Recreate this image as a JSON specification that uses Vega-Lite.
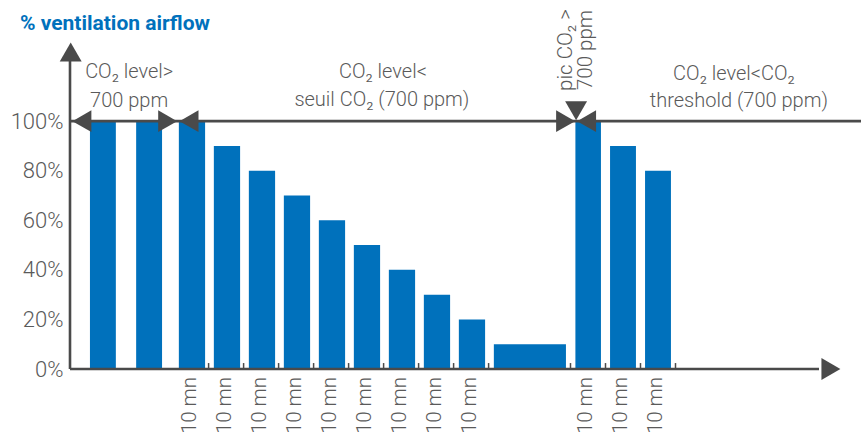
{
  "$schema": "https://vega.github.io/schema/vega-lite/v6.json",
  "autosize": "none",
  "width": 770,
  "height": 347,
  "padding": {"left": 70, "top": 22, "right": 26, "bottom": 63},
  "config": {
    "view": {"stroke": null},
    "font": "Roboto, sans-serif"
  },
  "datasets": {
    "bars": [
      {"start": 5.7, "end": 13.1, "mid": 9.4, "value": 100, "label": ""},
      {"start": 18.9, "end": 26.3, "mid": 22.6, "value": 100, "label": ""},
      {"start": 31.1, "end": 38.6, "mid": 34.85, "value": 100, "label": "10 mn"},
      {"start": 41.1, "end": 48.6, "mid": 44.85, "value": 90, "label": "10 mn"},
      {"start": 51.1, "end": 58.6, "mid": 54.85, "value": 80, "label": "10 mn"},
      {"start": 61.1, "end": 68.6, "mid": 64.85, "value": 70, "label": "10 mn"},
      {"start": 71.1, "end": 78.6, "mid": 74.85, "value": 60, "label": "10 mn"},
      {"start": 81.1, "end": 88.6, "mid": 84.85, "value": 50, "label": "10 mn"},
      {"start": 91.1, "end": 98.6, "mid": 94.85, "value": 40, "label": "10 mn"},
      {"start": 101.1, "end": 108.6, "mid": 104.85, "value": 30, "label": "10 mn"},
      {"start": 111.1, "end": 118.6, "mid": 114.85, "value": 20, "label": "10 mn"},
      {"start": 121.1, "end": 141.7, "mid": 131.4, "value": 10, "label": ""},
      {"start": 144.4, "end": 151.7, "mid": 148.05, "value": 100, "label": "10 mn"},
      {"start": 154.3, "end": 161.7, "mid": 158.0, "value": 90, "label": "10 mn"},
      {"start": 164.3, "end": 171.7, "mid": 168.0, "value": 80, "label": "10 mn"}
    ],
    "ticks": [
      {"t": 39.6}, {"t": 49.6}, {"t": 59.6}, {"t": 69.6}, {"t": 79.6},
      {"t": 89.6}, {"t": 99.6}, {"t": 109.6}, {"t": 119.6},
      {"t": 143.0}, {"t": 153.0}, {"t": 163.0}, {"t": 173.0}
    ],
    "lines": [
      {"x1": 0, "x2": 0, "y1": 0, "y2": 126},
      {"x1": 0, "x2": 214, "y1": 0, "y2": 0},
      {"x1": 0, "x2": 226, "y1": 100, "y2": 100}
    ],
    "arrows": [
      {"x": 0.2, "y": 127.9, "shape": "triangle-up"},
      {"x": 217.4, "y": 0, "shape": "triangle-right"},
      {"x": 3.4, "y": 100, "shape": "triangle-left"},
      {"x": 27.9, "y": 100, "shape": "triangle-right"},
      {"x": 34.0, "y": 100, "shape": "triangle-left"},
      {"x": 141.6, "y": 100, "shape": "triangle-right"},
      {"x": 147.6, "y": 100, "shape": "triangle-left"},
      {"x": 144.6, "y": 104.2, "shape": "triangle-down"}
    ],
    "notes": [
      {"text": "CO₂ level>", "x": 16.9, "y": 117.4},
      {"text": "700 ppm", "x": 16.9, "y": 105.7},
      {"text": "CO₂ level<", "x": 89.4, "y": 117.4},
      {"text": "seuil CO₂ (700 ppm)", "x": 89.1, "y": 106.1},
      {"text": "CO₂  level<CO₂", "x": 189.7, "y": 116.6},
      {"text": "threshold (700 ppm)", "x": 191.1, "y": 105.7}
    ],
    "vnotes": [
      {"text": "pic CO₂ >", "x": 141.8, "y": 128.7},
      {"text": "700 ppm", "x": 147.5, "y": 128.7}
    ],
    "title": [
      {"text": "% ventilation airflow", "x": -14.3, "y": 136.7}
    ]
  },
  "layer": [
    {
      "data": {"name": "bars"},
      "mark": {"type": "rect", "color": "#0071bc"},
      "encoding": {
        "x": {"field": "start", "type": "quantitative", "scale": {"domain": [0, 220]}, "axis": null},
        "x2": {"field": "end"},
        "y": {"field": "value", "type": "quantitative", "scale": {"domain": [0, 140]},
          "axis": {"values": [0, 20, 40, 60, 80, 100], "domain": false, "ticks": false, "tickSize": 0, "grid": false,
            "title": null, "labelExpr": "datum.value + '%'", "labelFontSize": 22, "labelFontWeight": 300, "labelColor": "#5a5a5a",
            "labelPadding": 7, "labelFont": "Roboto, sans-serif"}},
        "y2": {"datum": 0}
      }
    },
    {
      "data": {"name": "ticks"},
      "mark": {"type": "rule", "color": "#4a4a4a", "strokeWidth": 1.5},
      "encoding": {
        "x": {"field": "t", "type": "quantitative"},
        "y": {"datum": 0},
        "y2": {"datum": 2.4}
      }
    },
    {
      "data": {"name": "lines"},
      "mark": {"type": "rule", "color": "#4a4a4a", "strokeWidth": 2.6},
      "encoding": {
        "x": {"field": "x1", "type": "quantitative"},
        "x2": {"field": "x2"},
        "y": {"field": "y1", "type": "quantitative"},
        "y2": {"field": "y2"}
      }
    },
    {
      "data": {"name": "arrows"},
      "mark": {"type": "point", "filled": true, "color": "#4a4a4a", "opacity": 1, "size": 480, "strokeWidth": 0},
      "encoding": {
        "x": {"field": "x", "type": "quantitative"},
        "y": {"field": "y", "type": "quantitative"},
        "shape": {"field": "shape", "type": "nominal", "scale": null}
      }
    },
    {
      "data": {"name": "bars"},
      "transform": [{"filter": "datum.label != ''"}],
      "mark": {"type": "text", "angle": 270, "align": "right", "baseline": "middle", "fontSize": 20.5, "fontWeight": 300, "color": "#5a5a5a", "dy": -2},
      "encoding": {
        "x": {"field": "mid", "type": "quantitative"},
        "y": {"datum": -3.2},
        "text": {"field": "label"}
      }
    },
    {
      "data": {"name": "notes"},
      "mark": {"type": "text", "align": "center", "baseline": "alphabetic", "fontSize": 20, "fontWeight": 300, "color": "#5a5a5a"},
      "encoding": {
        "x": {"field": "x", "type": "quantitative"},
        "y": {"field": "y", "type": "quantitative"},
        "text": {"field": "text"}
      }
    },
    {
      "data": {"name": "vnotes"},
      "mark": {"type": "text", "angle": 270, "align": "center", "baseline": "middle", "fontSize": 20.5, "fontWeight": 300, "color": "#5a5a5a"},
      "encoding": {
        "x": {"field": "x", "type": "quantitative"},
        "y": {"field": "y", "type": "quantitative"},
        "text": {"field": "text"}
      }
    },
    {
      "data": {"name": "title"},
      "mark": {"type": "text", "align": "left", "baseline": "alphabetic", "fontSize": 21, "fontWeight": "bold", "color": "#0071bc"},
      "encoding": {
        "x": {"field": "x", "type": "quantitative"},
        "y": {"field": "y", "type": "quantitative"},
        "text": {"field": "text"}
      }
    }
  ]
}
